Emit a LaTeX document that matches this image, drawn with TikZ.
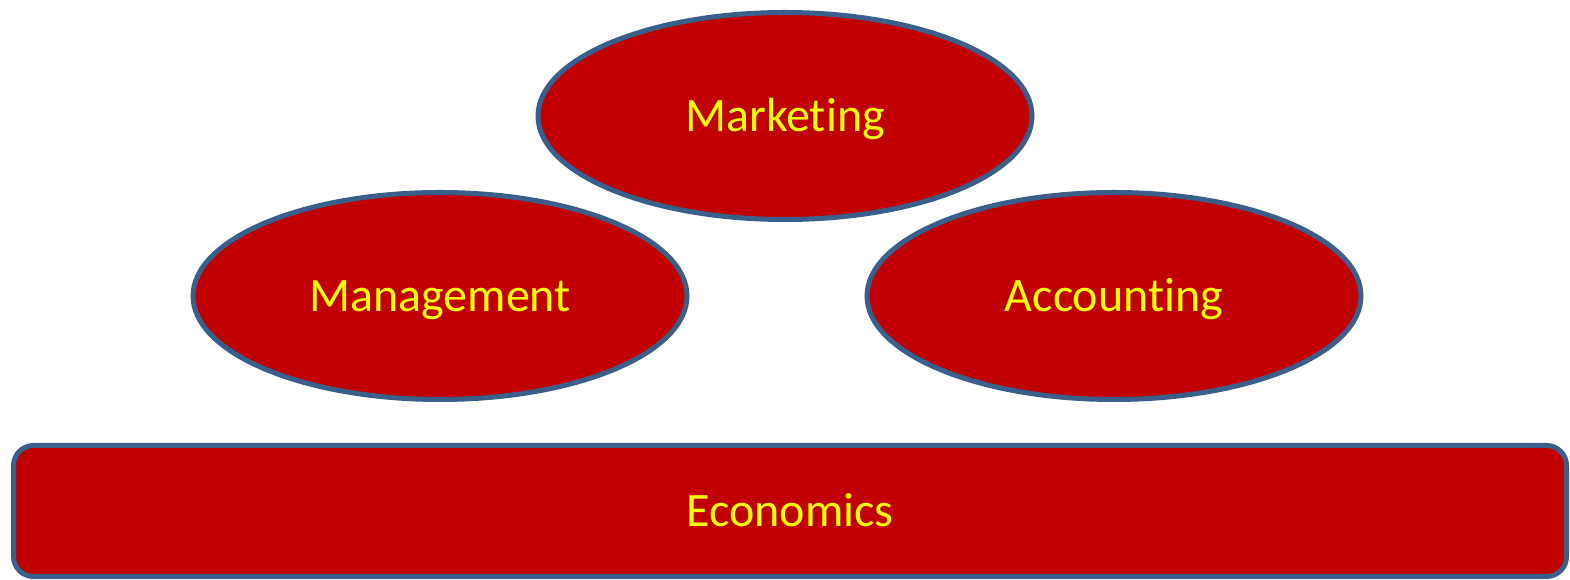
\documentclass[tikz,border=0pt]{standalone}
\usepackage{fontspec}
\setmainfont{Carlito}[Ligatures=NoCommon]
\usetikzlibrary{shapes.geometric}
\definecolor{boxred}{HTML}{C00000}
\definecolor{edgeblue}{HTML}{3A5F8B}
\definecolor{txtyellow}{HTML}{FFFF00}
\tikzset{
  lbl/.style={text=txtyellow, font=\fontsize{48}{54}\selectfont, text height=40pt, text depth=8pt},
  subj/.style={lbl, ellipse, fill=boxred, draw=edgeblue, line width=5pt, minimum width=494pt, minimum height=207pt, inner sep=0pt},
  base/.style={lbl, rectangle, rounded corners=20pt, fill=boxred, draw=edgeblue, line width=5pt, minimum width=1553pt, minimum height=131pt, inner sep=0pt}
}
\begin{document}
\begin{tikzpicture}[x=1pt,y=1pt]
\useasboundingbox (0,0) rectangle (1570,580);
\node[subj] (mkt) at (785,464) {Marketing};
\node[subj] (mgmt) at (440,284) {Management};
\node[subj] (acc) at (1114,284) {Accounting};
\node[base] (eco) at (790,69) {Economics};
\end{tikzpicture}
\end{document}
